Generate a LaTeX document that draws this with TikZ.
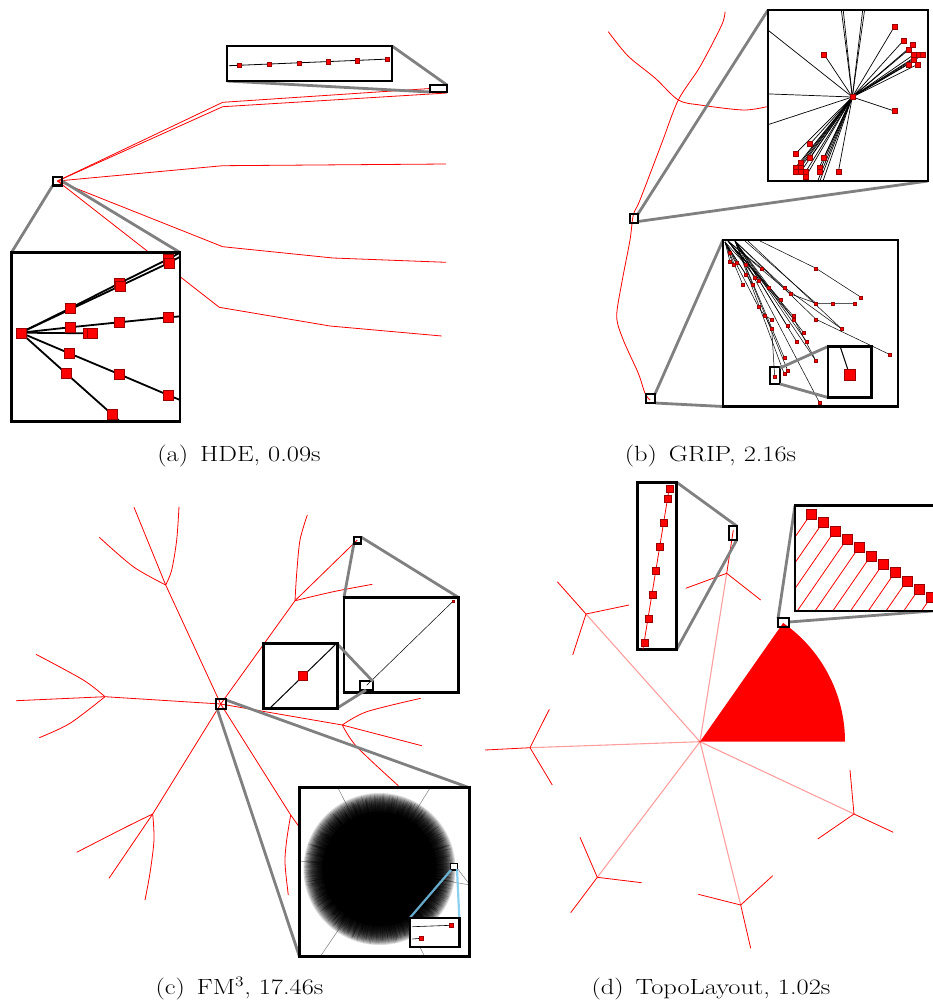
\documentclass[tikz,border=0pt]{standalone}
\usepackage{graphicx}
\definecolor{zgray}{RGB}{128,128,128}
\definecolor{lblue}{RGB}{120,200,240}
\tikzset{
 redge/.style={red, line width=0.8pt},
 pinkray/.style={red, opacity=0.38, line width=1.1pt},
 zl/.style={draw=zgray, line width=2.8pt},
 ibox/.style={draw=black, fill=white, line width=2.8pt},
 sbox/.style={draw=black, line width=2.2pt},
 bedge/.style={black, line width=0.8pt},
 sqst/.style={fill=red, draw=red!60!black, line width=0.3pt},
 captxt/.style={inner sep=0pt, anchor=base, font=\fontsize{22}{26}\selectfont},
}
\newcommand\rsq[3]{\filldraw[sqst] ({#1-0.5*#3},{#2-0.5*#3}) rectangle ++(#3,#3);}
\begin{document}
\begin{tikzpicture}[x=1pt,y=-1pt]
\useasboundingbox (0,0) rectangle (933,1002);
\begin{scope}
\clip (0,0) rectangle (933,1002);
%%%%%%%%%%%%%%%% (a) HDE
\draw[redge] (57.5,181) -- (222.7,102.3) -- (430,88.5);
\draw[redge] (57.5,181) -- (222.7,106.7) -- (447,93);
\draw[redge] (57.5,181) -- (222.7,165.7) -- (446,164);
\draw[redge] (57.5,181) -- (222.7,246.7) -- (333,258) -- (446,262.3);
\draw[redge] (57.5,181) -- (219.3,307.3) -- (330,326) -- (441.7,336);
\draw[zl] (392,46) -- (447,85);
\draw[zl] (227,81) -- (430,92);
\draw[zl] (53,185) -- (11.5,252.5);
\draw[zl] (62,181) -- (180,252.5);
\filldraw[ibox] (227,46) rectangle (392,81);
\draw[bedge] (229,65.7) -- (390,59);
\foreach \x/\y in {239/65.3,269/64,299/63,328/61.7,357/60.7,387/59.3} {\rsq{\x}{\y}{4.5}}
\draw[sbox] (430,85) rectangle (447,92);
\draw[sbox] (53,177) rectangle (62,185.5);
\fill[white] (11.5,252.5) rectangle (180,421.5);
\begin{scope}
\clip (11.5,252.5) rectangle (180,421.5);
\draw[black, line width=1.8pt] (20.7,332.7) -- (70,308.3) -- (119.3,283.3) -- (168.3,259) -- (185,250);
\draw[black, line width=1.8pt] (20.7,332.7) -- (70,309.5) -- (120,286) -- (169.3,262.7) -- (185,254);
\draw[black, line width=1.8pt] (20.7,332.7) -- (70,327.3) -- (119,322.3) -- (168.3,317.3) -- (185,316);
\draw[black, line width=1.8pt] (20.7,332.7) -- (90.7,333.3);
\draw[black, line width=1.8pt] (20.7,332.7) -- (69.3,353.3) -- (118.7,374) -- (168,395) -- (185,402);
\draw[black, line width=1.8pt] (20.7,332.7) -- (66,373.3) -- (111.7,414) -- (125,426);
\foreach \x/\y in {20.7/332.7,70/308.3,119.3/283.3,120/286,168.3/259,169.3/262.7,70/327.3,119/322.3,168.3/317.3,88.5/333.3,92/333.5,69.3/353.3,118.7/374,168/395,66/373.3,111.7/414} {\rsq{\x}{\y}{10}}
\end{scope}
\draw[ibox, fill=none] (11.5,252.5) rectangle (180,421.5);
%%%%%%%%%%%%%%%% (b) GRIP
\draw[redge] plot[smooth] coordinates {(725,11.7) (721.7,25) (700,66.7) (678.3,100) (661.7,143.3) (640,200) (633.3,215) (630,240) (621.7,283.3) (616.7,316.7) (623.3,340) (638.3,373.3) (645,393.3) (650,400)};
\draw[redge] plot[smooth] coordinates {(608.3,31.7) (628,56) (655,78) (678.3,100) (700,105) (743.3,110) (766.7,106.7)};
\draw[zl] (638,214) -- (768,10);
\draw[zl] (638,221.5) -- (928,181);
\draw[zl] (655,394) -- (723,240);
\draw[zl] (655,403) -- (723,406.5);
\draw[sbox] (630,214) rectangle (638.3,223.3);
\draw[sbox] (646,394) rectangle (655,403.3);
% top inset
\fill[white] (768,10) rectangle (928,181);
\begin{scope}
\clip (768,10) rectangle (928,181);
\foreach \x/\y in {840.7/5,842.7/5,863.3/5,865.3/5,894.3/26.7,903.3/40.7,912.7/45,908.3/50,913.3/55,918.3/55,922.7/55,913.3/59.3,908.3/64.3,917.7/64.3,824/54.3,760/23.8,760/93.6,760/127.3,894.3/111,810/144,795.7/153.3,810/157.7,824/157.7,800.7/162.7,795.7/167.3,800.7/167.3,795.7/171.7,800.7/171.7,805.7/171.7,805.7/176.7,819.3/167.3,819.3/171.7,838.3/172,818.3/185,821.6/185,816/185}
  {\draw[black, line width=0.7pt] (852.3,97) -- (\x,\y);}
\foreach \x/\y in {852.3/97,894.3/26.7,903.3/40.7,912.7/45,908.3/50,913.3/55,918.3/55,922.7/55,913.3/59.3,908.3/64.3,917.7/64.3,824/54.3,894.3/111,810/144,795.7/153.3,810/157.7,824/157.7,800.7/162.7,795.7/167.3,800.7/167.3,795.7/171.7,800.7/171.7,805.7/171.7,805.7/176.7,819.3/167.3,819.3/171.7,838.3/172}
  {\rsq{\x}{\y}{5}}
\end{scope}
\draw[ibox, fill=none] (768,10) rectangle (928,181);
% bottom inset
\fill[white] (723,240) rectangle (898,406.5);
\begin{scope}
\clip (723,240) rectangle (898,406.5);
\foreach \x/\y in {730/252.3,730/261.7,733.3/265,736.7/262.3,746/265,746/274.7,742.7/284.3,752.3/284.3,758.3/306.7}
  {\draw[black, line width=0.5pt] (725,242) -- (\x,\y);}
\foreach \x/\y in {761.7/268.3,755/277.7,758.3/281,768.3/287.3,780.7/300,790.7/294,793.3/316,794/319.3}
  {\draw[black, line width=0.5pt] (728,241) -- (\x,\y);}
\foreach \x/\y in {784.3/287.3,816/319.3,803.3/332.3,796.7/341.7,806.7/341.7,816/361,784.3/357.7,787.7/370.7,784.3/374,819.3/402.3,787.3/326}
  {\draw[black, line width=0.5pt] (735,241) -- (\x,\y);}
\draw[black, line width=0.5pt] (745,241) -- (816,303.3);
\draw[black, line width=0.5pt] (748,241) -- (841.7,329);
\draw[black, line width=0.5pt] (760,241) -- (816,268.3) -- (861,297.3);
\draw[black, line width=0.5pt] (790.7,294) -- (816,303.3) -- (832.3,303.3) -- (855,303.3);
\draw[black, line width=0.5pt] (784.3,287.3) -- (841.7,329);
\draw[black, line width=0.5pt] (816,319.3) -- (889.3,354.3);
\draw[black, line width=0.5pt] (794,319.3) -- (816,361);
\draw[black, line width=0.5pt] (758.3,306.7) -- (765,316) -- (771.7,329) -- (774.7,377);
\draw[black, line width=0.5pt] (765,316) -- (771.7,319.3);
\foreach \x/\y in {730/252.3,730/261.7,733.3/265,736.7/262.3,746/265,761.7/268.3,816/268.3,861/297.3,746/274.7,755/277.7,758.3/281,742.7/284.3,752.3/284.3,768.3/287.3,784.3/287.3,790.7/294,816/303.3,832.3/303.3,855/303.3,780.7/300,758.3/306.7,765/316,771.7/319.3,793.3/316,794/319.3,816/319.3,841.7/329,787.3/326,771.7/329,803.3/332.3,796.7/341.7,806.7/341.7,889.3/354.3,784.3/357.7,816/361,787.7/370.7,784.3/374,819.3/402.3,774.7/377}
  {\rsq{\x}{\y}{3.2}}
\end{scope}
\draw[sbox] (770,367.3) rectangle (780,384.3);
\draw[zl] (780,368) -- (828,346.5);
\draw[zl] (780,384) -- (828,397.5);
\filldraw[ibox] (828,346.5) rectangle (871.5,397.5);
\begin{scope}
\clip (828,346.5) rectangle (871.5,397.5);
\draw[black, line width=1pt] (839.3,344) -- (849.7,375);
\end{scope}
\rsq{849.7}{375}{11}
\draw[ibox, fill=none] (828,346.5) rectangle (871.5,397.5);
\draw[ibox, fill=none] (723,240) rectangle (898,406.5);
%%%%%%%%%%%%%%%% (c) FM3
\draw[redge] (220.7,704) -- (165.7,585) -- (134,507.3);
\draw[redge] plot[smooth] coordinates {(165.7,585) (171.7,570) (176.7,540) (179,506.7)};
\draw[redge] plot[smooth] coordinates {(165.7,585) (133.3,566.7) (99.3,537.3)};
\draw[redge] (220.7,704) -- (105,696.7) -- (16,700.7);
\draw[redge] plot[smooth] coordinates {(105,696.7) (83.3,680) (36,654.3)};
\draw[redge] plot[smooth] coordinates {(105,696.7) (70,723.3) (39.3,737.7)};
\draw[redge] (220.7,704) -- (152.7,814) -- (109,878.3);
\draw[redge] plot[smooth] coordinates {(152.7,814) (126.7,826.7) (76.7,852.3)};
\draw[redge] plot[smooth] coordinates {(152.7,814) (154,840) (150,873) (145,900)};
\draw[redge] (220.7,704) -- (290.7,815) -- (305,835);
\draw[redge] plot[smooth] coordinates {(290.7,815) (286.7,840) (285,863) (288.3,895)};
\draw[redge] (220.7,704) -- (342.3,725) -- (421.7,745.7);
\draw[redge] plot[smooth] coordinates {(342.3,725) (366.7,711.7) (420.7,698.3)};
\draw[redge] plot[smooth] coordinates {(342.3,725) (356.7,746.7) (398.3,785.7)};
\draw[redge] (220.7,704) -- (295,600.7) -- (357.3,540);
\draw[redge] plot[smooth] coordinates {(295,600.7) (296.7,573.3) (300,540) (307.3,515)};
\draw[redge] plot[smooth] coordinates {(295,600.7) (333.3,591.7) (372.3,584.3)};
\draw[zl] (354,543) -- (344,597.3);
\draw[zl] (361,537) -- (458.3,597.3);
\draw[sbox] (354,537) rectangle (361,543.5);
\draw[zl] (226,700) -- (469.3,787.7);
\draw[zl] (217.3,709.3) -- (299.5,956.7);
\draw[sbox] (216,699.3) rectangle (226,709.3);
% upper inset
\filldraw[ibox] (344,597.3) rectangle (458.3,692.7);
\draw[black, line width=0.5pt] (366.7,685.3) -- (453.3,601);
\rsq{453.3}{601}{2.5}
\draw[sbox] (360,681.3) rectangle (373.3,690);
\draw[zl] (337.3,644) -- (373,681.5);
\draw[zl] (337.3,708) -- (366,690);
% mid inset
\filldraw[ibox] (263.3,643.3) rectangle (337.3,708.7);
\begin{scope}
\clip (263.3,643.3) rectangle (337.3,708.7);
\draw[black, line width=1pt] (268,710) -- (336,644);
\end{scope}
\rsq{302.3}{675.3}{9}
\draw[ibox, fill=none] (263.3,643.3) rectangle (337.3,708.7);
% big inset
\fill[white] (299.5,787.7) rectangle (469.3,956.7);
\begin{scope}
\clip (299.5,787.7) rectangle (469.3,956.7);
\foreach \x/\y in {338/788,430/788,320/957,425/957,470/885,299/861}
  {\draw[zgray, line width=0.5pt] (379.5,869) -- (\x,\y);}
\foreach \r in {76,75,...,58}
  {\fill[black, opacity=0.14] (379.5,869) circle[radius=\r];}
\fill[black] (379.5,869) circle[radius=57];
\foreach \a in {0,0.3,...,359.9}
  {\draw[black, opacity=0.35, line width=0.2pt] (379.5,869) -- ++(\a:{58+18*rnd});}
\draw[zgray, line width=0.5pt] (457,868) -- (470,885);
\end{scope}
\draw[black, line width=1.4pt, fill=white] (450.7,863.3) rectangle (457.3,870);
\draw[lblue, opacity=0.85, line width=2.2pt] (451,870) -- (410,917.7);
\draw[lblue, opacity=0.85, line width=2.2pt] (457,869) -- (459.3,917.7);
\filldraw[black, fill=white, line width=2.4pt] (410,917.7) rectangle (459.3,946.7);
\draw[black, line width=0.6pt] (412.3,926.7) -- (451,925.3);
\draw[black, line width=0.6pt] (412.3,939) -- (421,938.3);
\rsq{451}{925.3}{4}
\rsq{421}{938.3}{4}
\draw[ibox, fill=none] (299.5,787.7) rectangle (469.3,956.7);
%%%%%%%%%%%%%%%% (d) TopoLayout
\fill[red] (700,741.7) -- (845,741.7) arc[start angle=0, end angle=-55, radius=145] -- cycle;
\draw[pinkray] (700,741.7) -- (586,614);
\draw[redge] (557.3,581.7) -- (586,614) -- (572.7,655);
\draw[redge] (586,614) -- (629,605);
\draw[pinkray] (700,741.7) -- (530,747.7);
\draw[redge] (530,747.7) -- (485,750);
\draw[redge] (549.3,709.3) -- (530,747.7) -- (552.3,785);
\draw[pinkray] (700,741.7) -- (597.3,877.3);
\draw[redge] (580,837.3) -- (597.3,877.3) -- (570.7,912.7);
\draw[redge] (597.3,877.3) -- (641.7,882.7);
\draw[pinkray] (700,741.7) -- (740.7,905);
\draw[redge] (698.3,894.3) -- (740.7,905) -- (772.7,875.7);
\draw[redge] (740.7,905) -- (750.7,948.3);
\draw[pinkray] (700,741.7) -- (854,814);
\draw[redge] (850,770) -- (854,814) -- (893.3,832.3);
\draw[redge] (854,814) -- (817.7,839);
\draw[pinkray] (700,741.7) -- (726.7,573.3);
\draw[redge] (726.7,573.3) -- (733.3,530);
\draw[redge] (685.7,588.3) -- (726.7,573.3) -- (760.7,600);
\draw[zl] (676.7,482.3) -- (736.7,526);
\draw[zl] (676.7,649.3) -- (736.7,540);
\draw[sbox] (729.3,526) rectangle (736.7,540);
\filldraw[ibox] (637.7,482.3) rectangle (676.7,649.3);
\draw[red, line width=0.8pt] (669.6,486) -- (643,649);
\foreach \x/\y in {669.3/488.3,667.7/498.3,663.7/522.3,660/546.7,656/570.7,652.3/594.3,648.7/618.3,644.7/642.3} {\rsq{\x}{\y}{7}}
\draw[zl] (778,618.5) -- (795,505.5);
\draw[zl] (789,622) -- (945,610);
\draw[sbox] (777.7,618.3) rectangle (789,626.7);
\fill[white] (795,505.5) rectangle (945,611);
\begin{scope}
\clip (795,505.5) rectangle (945,611);
\foreach \i in {0,...,11}
  {\draw[red, line width=0.8pt] ({810.7+12*\i},{514.3+8.33*\i}) -- ++(-100,145);}
\foreach \i in {0,...,11}
  {\rsq{810.7+12*\i}{514.3+8.33*\i}{10}}
\end{scope}
\draw[ibox, fill=none] (795,505.5) rectangle (945,611);
\end{scope}
%%%%%%%%%%%%%%%% captions
\node[captxt] (capa) at (239,461) {\scalebox{1.2}[1]{(a)\hspace{0.45em}HDE, 0.09s}};
\node[captxt] (capb) at (710.5,461) {\scalebox{1.2}[1]{(b)\hspace{0.45em}GRIP, 2.16s}};
\node[captxt] (capc) at (239.5,994) {\scalebox{1.2}[1]{(c)\hspace{0.45em}FM$^3$, 17.46s}};
\node[captxt] (capd) at (711,994) {\scalebox{1.2}[1]{(d)\hspace{0.45em}TopoLayout, 1.02s}};
\end{tikzpicture}
\end{document}
